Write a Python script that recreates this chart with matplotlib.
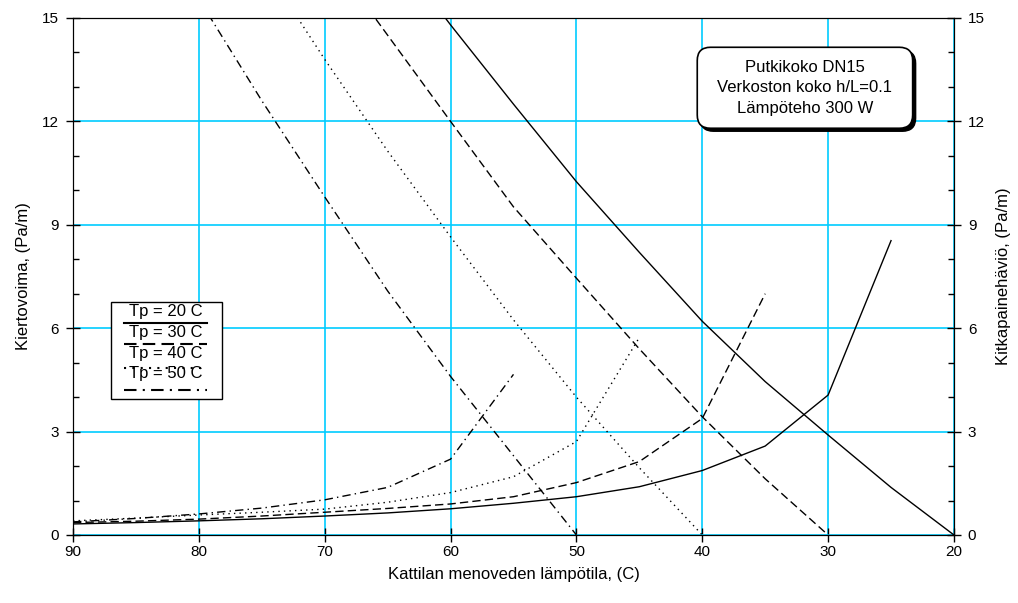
import numpy as np
import matplotlib
matplotlib.use('Agg')
import matplotlib.pyplot as plt
from matplotlib.ticker import MultipleLocator
from matplotlib.patches import Rectangle, FancyBboxPatch

plt.rcParams['font.family'] = ['Liberation Sans', 'DejaVu Sans']

# Kiertovoima (falling curves) vs. boiler flow temperature
t_20 = [65, 60, 55, 50, 45, 40, 35, 30, 25, 20]
kv_20 = [17.2, 14.8, 12.5, 10.25, 8.2, 6.2, 4.45, 2.9, 1.38, 0]
t_30 = [70, 65, 60, 55, 50, 45, 40, 35, 30]
kv_30 = [17.0, 14.5, 12.0, 9.52, 7.45, 5.4, 3.43, 1.63, 0]
t_40 = [75, 70, 65, 60, 55, 50, 45, 40]
kv_40 = [16.6, 13.8, 11.14, 8.65, 6.24, 4.0, 1.95, 0]
t_50 = [80, 75, 70, 65, 60, 55, 50]
kv_50 = [15.55, 12.6, 9.81, 7.08, 4.6, 2.3, 0]

# Kitkapainehäviö (rising curves)
tk_20 = [90, 85, 80, 75, 70, 65, 60, 55, 50, 45, 40, 35, 30, 25]
kp_20 = [0.32, 0.36, 0.41, 0.47, 0.55, 0.64, 0.76, 0.92, 1.11, 1.40, 1.87, 2.58, 4.06, 8.54]
tk_30 = [90, 85, 80, 75, 70, 65, 60, 55, 50, 45, 40, 35]
kp_30 = [0.36, 0.40, 0.46, 0.55, 0.66, 0.77, 0.90, 1.11, 1.52, 2.13, 3.38, 7.0]
tk_40 = [90, 85, 80, 75, 70, 65, 60, 55, 50, 45]
kp_40 = [0.41, 0.49, 0.58, 0.66, 0.75, 0.95, 1.23, 1.69, 2.71, 5.73]
tk_50 = [90, 85, 80, 75, 70, 65, 60, 55]
kp_50 = [0.38, 0.48, 0.61, 0.78, 1.02, 1.38, 2.20, 4.66]

labels = ['Tp = 20 C', 'Tp = 30 C', 'Tp = 40 C', 'Tp = 50 C']
styles = ['-', (0, (6, 3)), (0, (1, 3)), (0, (6, 3, 1, 3))]
info = 'Putkikoko DN15\nVerkoston koko h/L=0.1\nLämpöteho 300 W'

fig = plt.figure(figsize=(10.18, 6.03), dpi=100)
ax = fig.add_axes([0.0717, 0.1128, 0.8654, 0.8574])
ax2 = ax.twinx()

falling = [(t_20, kv_20), (t_30, kv_30), (t_40, kv_40), (t_50, kv_50)]
rising = [(tk_20, kp_20), (tk_30, kp_30), (tk_40, kp_40), (tk_50, kp_50)]
for (t, v), ls in zip(falling, styles):
    ax.plot(t, v, color='black', lw=1.0, ls=ls)
for (t, v), ls in zip(rising, styles):
    ax2.plot(t, v, color='black', lw=1.0, ls=ls)

for a in (ax, ax2):
    a.set_xlim(90, 20)
    a.set_ylim(0, 15)
    a.yaxis.set_major_locator(MultipleLocator(3))
    a.yaxis.set_minor_locator(MultipleLocator(1))
    a.tick_params(which='major', direction='inout', length=10, width=1, labelsize=11, pad=5)
    a.tick_params(which='minor', direction='in', length=4, width=1)
ax.xaxis.set_major_locator(MultipleLocator(10))
ax.tick_params(axis='x', pad=2)
ax.grid(True, color='#00CCFF', lw=1.2)
ax.set_axisbelow(True)

ax.set_xlabel('Kattilan menoveden lämpötila, (C)', fontsize=12, labelpad=6)
ax.set_ylabel('Kiertovoima, (Pa/m)', fontsize=12, labelpad=8)
ax2.set_ylabel('Kitkapainehäviö, (Pa/m)', fontsize=12, labelpad=8)

# legend: text with line sample under it
ax2.add_patch(Rectangle((0.0431, 0.263), 0.1259, 0.1877, transform=ax2.transAxes,
                        fc='white', ec='black', lw=1, zorder=5))
text_y = [0.4313, 0.3907, 0.3501, 0.3114]
line_y = [0.410, 0.3694, 0.323, 0.2805]
for lab, ls, ty, ly in zip(labels, styles, text_y, line_y):
    ax2.text(0.1056, ty, lab, transform=ax2.transAxes, ha='center', va='center',
             fontsize=12, zorder=6)
    ax2.plot([0.0579, 0.1521], [ly, ly], transform=ax2.transAxes, color='black',
             lw=1.5, ls=ls, zorder=6)

# info box with rounded corners and a drop shadow
aspect = 881 / 517
bx, by, bw, bh = 0.7086, 0.7867, 0.2445, 0.1566
style = 'round,pad=0,rounding_size=0.015'
ax2.add_patch(FancyBboxPatch((bx + 3 / 881, by - 3 / 517), bw, bh, boxstyle=style,
                             mutation_aspect=aspect, transform=ax2.transAxes,
                             fc='black', ec='black', lw=1, zorder=6))
ax2.add_patch(FancyBboxPatch((bx, by), bw, bh, boxstyle=style,
                             mutation_aspect=aspect, transform=ax2.transAxes,
                             fc='white', ec='black', lw=1.2, zorder=7))
ax2.text(bx + bw / 2, by + bh / 2, info, transform=ax2.transAxes, ha='center',
         va='center', fontsize=12, linespacing=1.45, zorder=8)

fig.savefig('out.png', dpi=100)
